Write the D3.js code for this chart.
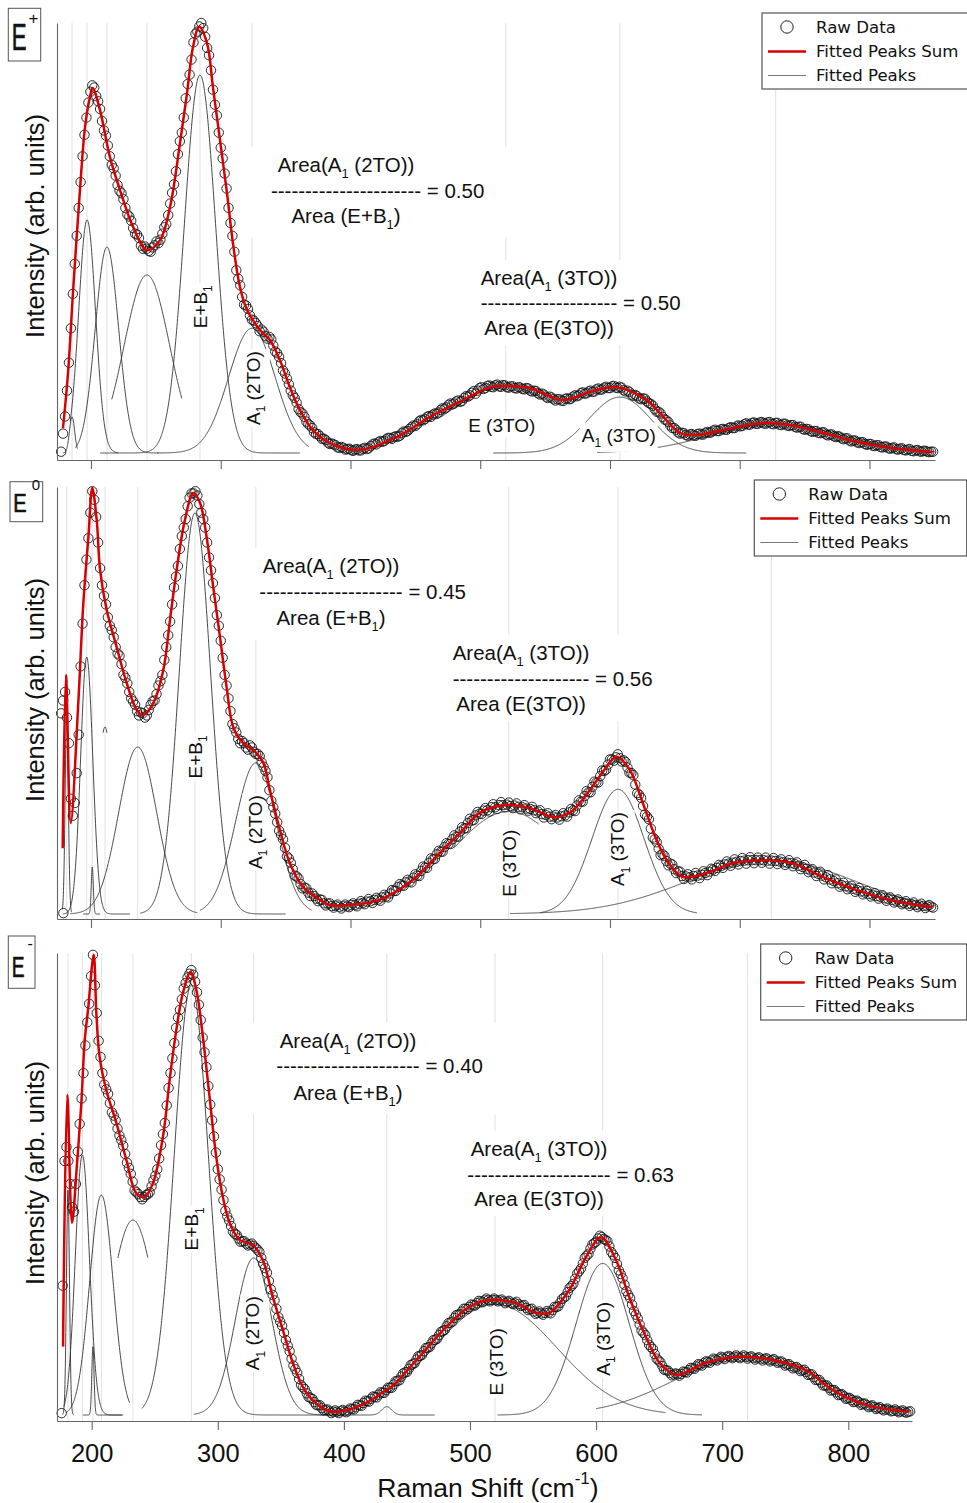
<!DOCTYPE html>
<html><head><meta charset="utf-8">
<script src="https://cdn.jsdelivr.net/npm/d3@7/dist/d3.min.js"></script>
<style>
body{margin:0;background:#fff;}
svg text{font-family:"Liberation Sans",Arial,Helvetica,sans-serif;fill:#111;}
</style></head><body>
<svg id="chart" width="967" height="1503"></svg>
<script>
// ================= DATA =================
const xTicks = [200,300,400,500,600,700,800];
const rawStart = 177, rawStep = 3;      // raw spectra read every 3 cm-1 from 177 cm-1
const midStart = 178.5;                 // second read-out, halfway between, every 3 cm-1

const rawEplus = [
0.3,8.5,21,37,50.5,63,74,81.5,85.5,83,
80,75,71.5,67,64.5,61,59,55.5,54,51,
50,47.5,47.5,46.8,48.3,48.8,51,53.2,58,62.5,
69.5,74.5,82.5,88,95.5,98,100,96.8,92.5,84.5,
78.5,71,65,57,50.5,42.5,39,34.5,33.5,31,
30.2,28.3,28.2,26.6,26.4,23.6,22.3,19.2,17.3,14.5,
12.8,10.2,9.2,7.3,6.4,4.8,4.4,3.3,3,2.1,
2,1.3,1.4,0.8,1,0.5,0.9,0.6,1.2,1.1,
2,2,2.8,2.8,3.5,3.3,3.9,4,5,5.1,
6,6.3,7.4,7.6,8.4,8.4,9.2,9.4,10.4,10.6,
11.5,11.5,12.2,12.1,13.2,13.4,14.4,14.5,15.3,15.1,
15.7,15.3,15.9,15.4,15.7,15.2,15.5,15,15.2,14.8,
15,14.3,14.4,13.6,13.6,12.8,12.9,12.2,12.5,12.1,
12.7,12.6,13.4,13.4,14.1,13.9,14.5,14.3,15,14.8,
15.4,15.1,15.6,15.1,15.2,14.3,14.2,13.3,13.2,12.5,
12.6,11.6,11,9.6,9.2,7.8,7.2,5.8,5.4,4.5,
4.6,4,4.4,4,4.5,4.3,4.9,4.8,5.4,5.1,
5.6,5.4,6,5.8,6.4,6.3,6.9,6.6,7.1,6.8,
7.2,6.8,7.2,6.7,7,6.5,6.8,6.3,6.5,5.9,
6.1,5.4,5.5,4.9,5.1,4.6,4.8,4.1,4.3,3.7,
3.8,3.2,3.4,2.7,2.9,2.3,2.5,1.9,2.1,1.6,
1.8,1.3,1.5,1,1.3,0.8,1.1,0.6,0.9,0.4,
0.7,0.3,0.5,0.2,0.3];
const midEplus = [
4.5,14.5,29,44,57,69,78,84,85,81.8,
77.2,73.8,69,66.2,62.3,60.4,57,55,52.3,50.8,
48.2,48,47,47.8,49.2,49.6,52.5,55.3,60.5,65.5,
72.5,78,85.8,91.5,97.5,99.2,98.8,94.2,89,81,
74.5,68.5,61.5,53.5,46.8,40.5,36.3,34.3,32,30.8,
29.5,28.7,27.2,27,25,23.2,20.9,18.5,16,13.4,
11.7,9.5,8.4,6.7,5.8,4.4,3.9,3.3,2.4,2.2,
1.8,1.2,1.2,0.9,0.7,0.8,0.6,1,0.9,1.6,
2.2,2.5,2.6,3.2,3.5,3.7,3.8,4.6,4.9,5.6,
6.4,6.7,7.7,7.9,8.6,8.9,9.1,10,10.3,11.2,
11.3,12,11.9,12.8,13.1,14,13.8,15.1,14.9,15.6,
15.4,15.7,15.5,15.8,15.3,15.5,15.1,15.3,14.9,15.1,
14.5,14.5,13.9,13.8,13.1,13.1,12.5,12.5,12.2,12.6,
12.5,13.1,13.2,13.9,13.8,14.3,14.2,14.8,14.7,15.2,
15.1,15.5,15.2,15.4,14.6,14.5,13.6,13.5,12.7,12.7,
12,11.4,10.2,9.6,8.4,7.6,6.4,5.8,4.8,4.7,
4.2,4.3,4.1,4.4,4.3,4.7,4.7,5.2,5.1,5.5,
5.4,5.8,5.8,6.2,6.2,6.7,6.6,7,6.8,7.1,
6.9,7.1,6.8,7,6.6,6.8,6.4,6.5,6.1,6.1,
5.6,5.6,5.1,5.1,4.7,4.8,4.3,4.3,3.9,3.9,
3.4,3.4,2.9,2.9,2.5,2.5,2.1,2.1,1.7,1.8,
1.4,1.5,1.1,1.2,0.9,1,0.7,0.8,0.5,0.6,
0.4,0.5,0.3,0.3];

const rawEzero = [
47,52,40,23,33,58,77,88,99,93,
81,74.5,69.5,66.5,62.5,60.5,56,54,50.5,49,
46.5,47,46.5,49,50,53.5,56,62.5,68.5,76.5,
81.5,88.5,92.5,97.5,98.5,98,94,90.5,83.5,77.5,
70,64,56,50.5,44.5,42.5,40,40,38.5,39,
37.5,37,34.5,32,26.5,23.5,19.5,17.5,13.5,12,
9,8.3,6,6,4.2,4.2,3,3.3,2,2.5,
1.5,2.2,1.3,2.2,1.6,2.5,1.8,3,2.3,3.5,
2.6,3.8,3.1,4.5,3.9,5.6,5.4,7,6.6,8,
7.4,9.3,8.9,11.1,10.8,13,12.9,14.8,14.6,16.6,
16.4,18.4,18.1,20.3,20.1,22.3,22,23.9,23.4,24.8,
24,25.7,24.6,26.2,25,26.1,24.8,25.9,24.5,25.5,
24.2,25.1,23.6,24.3,22.6,23.6,22.2,23.2,22.1,23.6,
22.8,24.6,24.1,26.6,26.3,28.8,28.5,31,30.8,33.6,
33.8,36.2,35.9,37.4,35.7,35.6,33.1,32.5,28.3,27.2,
23.3,22.2,17.9,16.8,13.8,13.6,11.4,11.6,9.6,9.9,
8.2,9.3,8.1,9.6,8.4,10,9.1,10.6,10.1,11.5,
10.8,12.3,11.3,12.8,11.6,13.1,11.8,13.3,11.9,13.2,
12,13.2,11.8,13.1,11.7,12.8,11.5,12.6,11.2,12.1,
10.5,11.5,9.8,10.5,8.9,9.9,8.1,9.1,7.2,8.1,
6.4,7.3,5.8,6.6,5.2,6.1,4.6,5.4,4.1,4.9,
3.6,4.4,3.1,3.9,2.7,3.4,2.3,3,1.9,2.7,
1.6,2.4,1.4,2.1,1.5];
const midEzero = [
50,46,27,26,42,68,83,94,97,87,
77,72.5,67.5,64.8,61,58.5,55.3,52,49.8,47.5,
47.2,46,47.8,49.8,51.5,54.5,59.5,65.3,72.5,79,
85.5,90.5,95.5,98.5,99,96,92.5,87,80.5,74,
67.5,60,53.5,47.5,43.5,41,40.5,39,39.5,38,
37.5,35.5,33.5,29,25,21.5,18.5,15.5,13,10.5,
8.8,7,6.2,5,4.8,3.6,3.4,2.5,2.4,1.9,
1.9,1.7,1.8,1.8,2.1,2.1,2.4,2.6,2.9,3,
3.3,3.4,3.9,4.1,4.8,5.4,6.3,6.7,7.4,7.6,
8.5,9,10.1,10.9,12,12.8,14,14.6,15.7,16.4,
17.5,18.1,19.3,20,21.3,21.9,23.1,23.5,24.2,24.3,
25,25,25.5,25.5,25.6,25.3,25.4,25.1,25,24.7,
24.6,24.3,24,23.4,23.2,22.8,22.8,22.6,22.9,23.1,
23.8,24.3,25.4,26.3,27.6,28.5,29.8,30.8,32.3,33.5,
35,36.2,36.7,36.5,36,34.3,33,30.3,27.9,25.3,
22.8,20,17.5,15.3,14,12.4,11.8,10.5,10,8.9,
8.8,8.6,8.9,9,9.2,9.6,9.9,10.4,10.8,11.2,
11.6,11.8,12,12.2,12.4,12.5,12.6,12.6,12.6,12.6,
12.6,12.5,12.5,12.4,12.3,12.1,12,11.9,11.7,11.3,
11,10.6,10.2,9.7,9.4,9,8.6,8.1,7.7,7.2,
6.8,6.5,6.2,5.9,5.6,5.3,5,4.7,4.5,4.2,
4,3.7,3.5,3.3,3,2.8,2.6,2.4,2.3,2.1,
2,1.9,1.8,1.7];

const rawEminus = [
28,58,50,44,57,68.5,80,89,99.6,87,
77.5,71.5,69.5,65.5,63.8,60.5,58.3,54.6,52.2,48.6,
47.8,46.7,47.6,48.2,50.8,53.2,58.4,63.2,70.8,77.2,
83.8,87.7,92.3,94.7,96.3,93.8,88.8,81.7,75.3,67.2,
60.3,53.2,48.8,44.2,42.1,39.7,39,37.5,37.6,36.7,
37.1,36.2,35.3,32.7,30.8,27.2,24.8,21.2,19.3,16.2,
13.8,10.7,9.1,6.5,5.6,3.9,3.5,2.2,2.1,1,
1.2,0.4,1,0.4,1.1,0.6,1.4,1.2,2.2,2,
3.1,2.9,4,3.8,4.9,4.8,5.9,5.9,7.3,7.5,
9,9.3,10.8,11.2,12.7,13,14.5,14.7,16.2,16.5,
18,18.4,19.9,20.2,21.6,21.8,23,22.9,23.9,23.7,
24.7,24.4,25.2,24.6,25.2,24.6,25,24.2,24.7,24,
24.5,23.6,23.8,22.7,23,21.9,22.4,21.7,22.5,22,
23.4,23.5,25.1,25.7,27.5,28.4,30.6,31.7,34,34.9,
36.9,37.5,38.8,38.1,37.6,35.3,34,31.3,29.6,26.8,
25.3,22.5,20.9,18.3,17.3,15.2,14.3,12.2,11.4,9.8,
9.6,8.6,9,8.5,9.4,9.2,10.2,10,11,10.7,
11.6,11.3,12.2,11.8,12.6,12.1,12.8,12.3,12.9,12.3,
12.9,12.2,12.7,12,12.5,11.8,12.3,11.6,12.1,11.3,
11.6,10.7,11,10.1,10.4,9.5,9.8,8.7,8.8,7.6,
7.6,6.4,6.4,5.3,5.4,4.3,4.5,3.5,3.7,2.8,
3.1,2.2,2.5,1.7,2.1,1.3,1.7,1,1.4,0.8,
1.2,0.6,1,0.5,0.8];
const midEminus = [
55,55,45,50,63,74,85,95,93,81,
74,70.5,67.5,64.8,62,59.5,56.5,53.5,50.5,48.2,
47.2,47.2,47.8,49.5,51.8,55.5,60.8,67,74,80.5,
86,90,93.5,95.5,95.3,91.5,85.5,78.5,71.2,63.8,
56.8,51,46.5,43,40.9,39.2,38.2,37.6,37.1,36.9,
36.6,35.8,34,31.8,29,26,23,20.2,17.8,15,
12.2,9.9,7.8,6,4.7,3.7,2.8,2.1,1.5,1.1,
0.8,0.7,0.7,0.8,0.8,1,1.3,1.7,2.1,2.6,
3,3.5,3.9,4.4,4.8,5.4,5.9,6.6,7.4,8.3,
9.2,10,11,12,12.8,13.8,14.6,15.5,16.3,17.3,
18.2,19.2,20,21,21.7,22.4,23,23.4,23.8,24.2,
24.6,24.8,24.9,24.9,24.9,24.8,24.6,24.5,24.3,24.2,
24,23.7,23.2,22.9,22.4,22.1,22,22.1,22.2,22.7,
23.4,24.3,25.4,26.6,27.9,29.5,31.1,32.8,34.5,36,
37.2,38.2,38.5,37.9,36.5,34.7,32.7,30.5,28.2,26,
23.9,21.7,19.6,17.8,16.2,14.7,13.2,11.8,10.6,9.7,
9.1,8.8,8.8,8.9,9.3,9.7,10.1,10.5,10.9,11.2,
11.5,11.8,12,12.2,12.4,12.5,12.6,12.6,12.6,12.6,
12.6,12.5,12.4,12.3,12.2,12.1,12,11.9,11.7,11.5,
11.2,10.9,10.6,10.3,10,9.7,9.3,8.8,8.2,7.6,
7,6.4,5.9,5.4,4.9,4.4,4,3.6,3.2,2.9,
2.7,2.4,2.1,1.9,1.7,1.5,1.3,1.2,1.1,0.9,
0.9,0.8,0.7,0.7];

// isolated low raw points at the start of the E0 and E- spectra
const extraEzero = [[178.7,0.2]];
const extraEminus = [[176.2,0.4]];

// fitted peaks sum (red) read at key points [cm-1, intensity]
const fitEplus = [[178.4,5.8],[182.3,18.6],[186.1,37.2],[191.5,61.2],[195.4,75.8],[199.2,82.8],[201.3,84.9],[206.9,79.8],[214.6,68.8],[222.3,61.2],[232.4,52.6],[243.1,47.2],[253.2,49.5],[260.9,57.2],[268.6,72.1],[274,83.7],[278.6,94.4],[283.4,99.1],[289.4,95.3],[294,85.1],[299.4,72.8],[304.8,60.5],[309.4,48.8],[314.8,38.6],[320.2,33.3],[330.2,28.6],[337.9,26.3],[345.6,21.6],[353.3,15.3],[361,10],[371,5.3],[384,2.3],[407,0.7],[435.7,3.7],[461.2,8.4],[486.6,12.3],[507.4,15.3],[520,15.6],[538,15.1],[563.6,12.3],[584.4,14.2],[605.2,15.3],[628.3,12.3],[638.4,9.3],[653.8,4.7],[666.9,4.2],[686.9,5.3],[717.7,7.0],[738.5,6.5],[763.9,4.7],[790.1,2.6],[815.6,1.2],[848.7,0.2]];
const fitEzero = [[178.2,15.4],[180.7,56],[184.4,21.3],[190.2,49.4],[194.1,72.8],[198,88.3],[201,99.8],[204.4,92.3],[207,80.6],[212.1,71.2],[219.8,62.5],[227.5,54.1],[235.2,47.8],[240.3,46.6],[248,49.4],[255.7,57.1],[260.9,68.9],[266,80.6],[272.4,92.3],[278.8,98.6],[284,96.3],[289.1,88.3],[294.2,76.6],[299.4,64.9],[304.5,53.2],[309.6,43.8],[317.3,40],[325,38.4],[332.8,35.4],[337.9,29],[345.6,19.7],[353.3,11.9],[363.6,6.3],[376.4,3.3],[384,2.1],[399.5,2.1],[422.6,3.3],[448,8],[468.9,14.3],[486.6,19.7],[499.7,23.7],[520.2,25.5],[538.2,24.8],[555.9,22.7],[569,23.7],[584.4,29],[597.3,34.4],[605,36.8],[615.3,33.7],[625.3,26],[635,18],[643.7,12.6],[656,8.7],[674.6,9.6],[694.6,11.9],[720.8,12.6],[740.8,11.9],[763.9,8.7],[790.1,5.6],[815.6,3.3],[848.7,1.6]];
const fitEminus = [[177.3,14.8],[180.7,69.3],[184.4,41.6],[188.4,54.5],[191.8,67.5],[194.5,81.2],[197.1,87.7],[201.6,99.6],[203.7,87],[206.3,77.5],[211.6,70.3],[219.6,63.2],[227.5,55.2],[235.4,48],[242,47.2],[248.6,50.2],[256.5,60.2],[261.8,72.5],[267.1,83.3],[272.3,91.3],[278.4,95.9],[283,92],[288.2,81.8],[293.5,68.8],[298.8,55.8],[304,47.2],[309.4,41.6],[317.3,37.9],[327.8,36.8],[335.7,33.5],[343.7,25.5],[351.6,18.4],[359.5,11.3],[367.4,6.1],[378,2.5],[389,0.8],[400,0.9],[415,2.3],[425,3.8],[432,5.2],[436,5.8],[441.4,7],[450,9.6],[462.5,13.4],[481,19],[499.5,23.4],[515.4,24.9],[536.5,24.2],[552.4,22.1],[562.9,22.1],[578.8,27.1],[592,34.2],[603.9,38.5],[615.8,33.5],[626.3,25.5],[639.5,16.9],[650.3,11.3],[663.3,8.7],[687.1,11.3],[713.5,12.6],[739.9,11.9],[766.3,9.7],[787,5.5],[813.9,2.2],[848.2,0.7]];

// fitted peaks: [centre cm-1, amplitude, width sigma, drawn from, drawn to]
const peaksEplus = [[185.4,8.4,2.0,178.5,189.5],[197,54.2,6.5,184,221],[212.3,47.9,9,188,252],[243.1,41.4,17.5,216,270],[284,87.9,12,207,361],[324,29,18,251,368],[519.7,15.5,45,470,545],[607.6,13,24,510,705],[727.7,6.8,50,590,850]];
const peaksEzero = [[181.3,48,1.2,178,185],[196.7,60.2,4.7,178.5,230],[201,11,0.8,194,207],[210.8,43.8,6,209.3,212.3],[236,39.1,14.7,184,282],[280.1,93.9,12,238,350],[327.1,35.4,15.8,284,370],[522,24,45,480,545],[606.2,29.2,20,546,667],[724.4,12.6,65,523,850]];
const peaksEminus = [[181.2,48.7,1.2,177,186],[192.6,56.3,5.6,178,225],[201,14.8,0.9,193,224],[207.7,47.6,9.3,180,230],[232.7,42.2,18.1,220.8,244.6],[279,93,13.5,240,362],[328.4,34,14.5,281,400],[434,1.8,4,362,472],[519.9,24,49,430,655],[605.2,32.8,21,522,684],[720,12.6,57,600,850]];

const ratio2TO = ["0.50","0.45","0.40"];
const ratio3TO = ["0.50","0.56","0.63"];
const panelSup = ["+","0","-"];
const legendItems = ["Raw Data","Fitted Peaks Sum","Fitted Peaks"];
const yTitle = "Intensity (arb. units)";

// ================= LAYOUT =================
const layout = [
 {x0:57,x1:935,d0:173.8,d1:850.5,y0:453,y100:23,axisY:460,top:23,tickLabels:false,
  box:[8.3,8.3,32.4,52.7],e:[11.7,50,37,0.6],sup:[28.5,24,17],yT:226,
  leg:[762,13,215],
  lab:{EB:[284,34],A2:[324.8,15.1],E3:[516.6,6.5,false],A3:[606.8,4.2,false]},
  r1:[346,[172,198,223],22], r2:[549,[285,310,335],20]},
 {x0:57,x1:935,d0:173.8,d1:850.5,y0:914,y100:487,axisY:919,top:487,tickLabels:false,
  box:[10,481.7,32.7,40],e:[13.3,511.7,26,0.77],sup:[31.7,490,15],yT:690,
  leg:[754.3,480,212.4],
  lab:{EB:[280.1,36.8],A2:[326.3,19.2],E3:[522.8,11.9,true],A3:[606,15.2,true]},
  r1:[331,[573,599,625],21], r2:[521,[660,686,711],20]},
 {x0:57,x1:912,d0:172.5,d1:850.5,y0:1415,y100:953,axisY:1421,top:953,tickLabels:true,
  box:[8.3,936,26.7,52.3],e:[11.7,976.7,30,0.64],sup:[27.5,949,16],yT:1173,
  leg:[760.7,944,206],
  lab:{EB:[279.3,40.3],A2:[327.7,17.7],E3:[520.5,11.5,true],A3:[605.4,16.5,true]},
  r1:[348,[1048,1073,1100],21], r2:[539,[1156,1182,1206],21]}
];

const panels = [
 {raw:rawEplus, mid:midEplus, extra:[], fit:fitEplus, peaks:peaksEplus},
 {raw:rawEzero, mid:midEzero, extra:extraEzero, fit:fitEzero, peaks:peaksEzero},
 {raw:rawEminus, mid:midEminus, extra:extraEminus, fit:fitEminus, peaks:peaksEminus}
];

const svg = d3.select('#chart');
const LFONT = '"DejaVu Sans","Lucida Grande",sans-serif';

function rich(t, parts, size){
  let shifted = false;
  parts.forEach(([s,k])=>{
    const ts = t.append('tspan').text(s);
    if(k==='sub'){ ts.attr('font-size', size*0.63).attr('dy', size*0.28); shifted = true; }
    else if(shifted){ ts.attr('dy', -size*0.28); shifted = false; }
  });
  return t;
}
function addBg(grp, px, py){
  const bb = grp.node().getBBox();
  grp.insert('rect',':first-child').attr('x',bb.x-px).attr('y',bb.y-py)
    .attr('width',bb.width+2*px).attr('height',bb.height+2*py).attr('fill','#fff');
}

panels.forEach((P, i)=>{
  const L = layout[i];
  const x = d3.scaleLinear().domain([L.d0, L.d1]).range([L.x0, L.x1]);
  const y = d3.scaleLinear().domain([0,100]).range([L.y0, L.y100]);
  const g = svg.append('g');

  // grid lines at peak centres
  g.append('g').selectAll('line').data(P.peaks).join('line')
    .attr('x1',d=>x(d[0])).attr('x2',d=>x(d[0]))
    .attr('y1',L.top).attr('y2',L.axisY)
    .attr('stroke','#e2e2e2').attr('stroke-width',1);

  // fitted peaks
  const line = d3.line().x(d=>x(d[0])).y(d=>y(d[1]));
  const pk = g.append('g');
  P.peaks.forEach(([c,a,s,f,t])=>{
    const st = Math.min(0.25, s/12), pts=[];
    for(let xx=f; xx<=t+1e-9; xx+=st) pts.push([xx, a*Math.exp(-((xx-c)**2)/(2*s*s))]);
    pk.append('path').attr('d', line(pts)).attr('fill','none')
      .attr('stroke','#333').attr('stroke-width',0.9);
  });

  // peak labels (white backing)
  const labs = [
    ['EB', [["E+B",""],["1","sub"]], true],
    ['A2', [["A",""],["1","sub"],[" (2TO)",""]], true],
    ['E3', [["E (3TO)",""]], null],
    ['A3', [["A",""],["1","sub"],[" (3TO)",""]], null]
  ];
  labs.forEach(([key, parts, rot])=>{
    const p = L.lab[key];
    const rotated = rot===true ? true : p[2];
    const grp = g.append('g');
    const t = grp.append('text').attr('font-size',19).attr('text-anchor','middle');
    if(rotated){
      t.attr('transform',`translate(${x(p[0])},${y(p[1])}) rotate(-90)`).attr('x',0).attr('y',19*0.35);
    } else {
      t.attr('x',x(p[0])).attr('y',y(p[1])+19*0.35);
    }
    rich(t, parts, 19);
    addBg(grp, 2, 2);
  });

  // ratio annotations
  const blocks = [
    [L.r1, [["Area(A",""],["1","sub"],[" (2TO))",""]], [["Area (E+B",""],["1","sub"],[")",""]], ratio2TO[i]],
    [L.r2, [["Area(A",""],["1","sub"],[" (3TO))",""]], [["Area (E(3TO))",""]], ratio3TO[i]]
  ];
  blocks.forEach(([r, top, bot, val])=>{
    const [cx, bl, nd] = r;
    const grp = g.append('g');
    rich(grp.append('text').attr('font-size',20.5).attr('text-anchor','middle').attr('x',cx).attr('y',bl[0]), top, 20.5);
    const mid = grp.append('text').attr('font-size',20.5).attr('y',bl[1]);
    const dash = mid.append('tspan').text('-'.repeat(nd));
    const w = dash.node().getComputedTextLength();
    mid.attr('x', cx - w/2);
    mid.append('tspan').text(' = ' + val);
    rich(grp.append('text').attr('font-size',20.5).attr('text-anchor','middle').attr('x',cx).attr('y',bl[2]), bot, 20.5);
    addBg(grp, 26, 6);
  });

  // raw data
  const pts = P.raw.map((v,k)=>[rawStart + k*rawStep, v])
    .concat(P.mid.map((v,k)=>[midStart + k*rawStep, v]))
    .concat(P.extra);
  g.append('g').selectAll('circle').data(pts).join('circle')
    .attr('cx',d=>x(d[0])).attr('cy',d=>y(d[1])).attr('r',4.7)
    .attr('fill','none').attr('stroke','#151515').attr('stroke-width',0.9);

  // fitted sum
  g.append('path').attr('d', d3.line().curve(d3.curveCatmullRom.alpha(0.5)).x(d=>x(d[0])).y(d=>y(d[1]))(P.fit))
    .attr('fill','none').attr('stroke','#d80000').attr('stroke-width',2.5);

  // axes
  const xa = g.append('g').attr('transform',`translate(0,${L.axisY})`)
    .call(d3.axisBottom(x).tickValues(xTicks).tickSizeInner(9).tickSizeOuter(0).tickPadding(14)
      .tickFormat(L.tickLabels ? d3.format('d') : ()=>''));
  xa.attr('font-size',25.5).attr('font-family','"Liberation Sans",Arial,sans-serif');
  xa.selectAll('path,line').attr('stroke','#666').attr('stroke-width',1.1);
  xa.selectAll('text').attr('fill','#111');
  const ya = d3.scaleLinear().domain([0,1]).range([L.axisY, L.top]);
  const yaG = g.append('g').attr('transform',`translate(${L.x0},0)`)
    .call(d3.axisLeft(ya).tickValues([]).tickSizeOuter(0));
  yaG.selectAll('path').attr('stroke','#666').attr('stroke-width',1.1);

  // y title
  g.append('text').attr('transform',`translate(44,${L.yT}) rotate(-90)`)
    .attr('text-anchor','middle').attr('font-size',25.5).text(yTitle);

  // panel label box
  const [bx,by,bw,bh] = L.box;
  g.append('rect').attr('x',bx).attr('y',by).attr('width',bw).attr('height',bh)
    .attr('fill','#fff').attr('stroke','#555').attr('stroke-width',1);
  g.append('text').attr('transform',`translate(${L.e[0]},${L.e[1]}) scale(${L.e[3]},1)`)
    .attr('font-size',L.e[2]).attr('stroke','#111').attr('stroke-width',0.7).text('E');
  g.append('text').attr('x',L.sup[0]).attr('y',L.sup[1]).attr('font-size',L.sup[2]).text(panelSup[i]);

  // legend
  const [lx,ly,lw] = L.leg;
  const lg = g.append('g').attr('transform',`translate(${lx},${ly})`);
  lg.append('rect').attr('width',lw).attr('height',76).attr('fill','#fff').attr('stroke','#555').attr('stroke-width',1.2);
  const rows = [14, 38.5, 62.5];
  lg.append('circle').attr('cx',25).attr('cy',rows[0]).attr('r',6.2).attr('fill','none').attr('stroke','#222').attr('stroke-width',1);
  lg.append('line').attr('x1',6).attr('x2',44).attr('y1',rows[1]).attr('y2',rows[1]).attr('stroke','#d80000').attr('stroke-width',2.6);
  lg.append('line').attr('x1',6).attr('x2',44).attr('y1',rows[2]).attr('y2',rows[2]).attr('stroke','#777').attr('stroke-width',1.2);
  legendItems.forEach((s,k)=>{
    lg.append('text').attr('x',54).attr('y',rows[k]).attr('dy','0.36em')
      .attr('font-size',16.6).style('font-family',LFONT).text(s);
  });
});

// x axis title
const xt = svg.append('text').attr('x',488).attr('y',1497).attr('text-anchor','middle').attr('font-size',26.5);
xt.append('tspan').text('Raman Shift (cm');
xt.append('tspan').attr('font-size',17).attr('dy',-13).text('-1');
xt.append('tspan').attr('dy',13).text(')');
</script>
</body></html>
